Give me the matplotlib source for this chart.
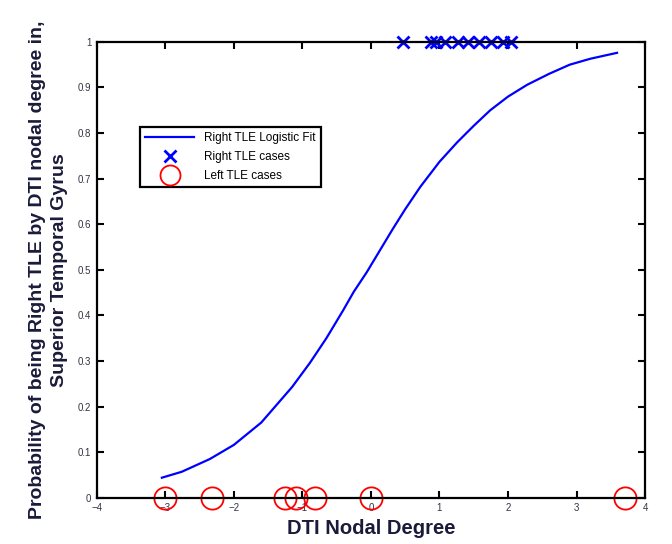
import numpy as np
import matplotlib
matplotlib.use("Agg")
import matplotlib.pyplot as plt

plt.rcParams['font.family'] = ['Liberation Sans', 'DejaVu Sans']

# Logistic fit curve, sampled along the nodal degree range
fit_x = [-3.05, -2.76, -2.35, -2.00, -1.60, -1.15, -0.89, -0.65, -0.41, -0.25,
         -0.06, 0.10, 0.32, 0.50, 0.72, 1.00, 1.26, 1.50, 1.74, 2.00, 2.28,
         2.60, 2.90, 3.20, 3.59]
fit_p = [0.044, 0.057, 0.085, 0.116, 0.165, 0.243, 0.296, 0.350, 0.410, 0.452,
         0.495, 0.535, 0.590, 0.633, 0.682, 0.737, 0.780, 0.816, 0.850, 0.880,
         0.906, 0.930, 0.950, 0.963, 0.976]

# Observed cases (outcome 1 = right TLE, 0 = left TLE)
right_x = [0.47, 0.88, 0.95, 1.08, 1.27, 1.42, 1.58, 1.75, 1.92, 2.05]
left_x = [-3.0, -2.32, -1.26, -1.10, -0.81, 0.0, 3.71]

fig = plt.figure(figsize=(6.72, 5.44), dpi=100)
ax = fig.add_axes([0.144, 0.085, 0.816, 0.838])

ax.plot(fit_x, fit_p, '-', color='#0000ff', linewidth=1.6, label='Right TLE Logistic Fit')
ax.plot(right_x, np.ones(len(right_x)), 'x', color='#0000ff', markersize=9,
        markeredgewidth=2.0, clip_on=False, label='Right TLE cases')
ax.plot(left_x, np.zeros(len(left_x)), 'o', markerfacecolor='none',
        markeredgecolor='#ff0000', markersize=16, markeredgewidth=1.3,
        clip_on=False, label='Left TLE cases')

ax.set_xlim(-4, 4)
ax.set_ylim(0, 1)
ax.set_xticks(np.arange(-4, 5, 1))
ax.set_yticks(np.arange(0, 1.01, 0.1))
ax.set_yticklabels(['0', '0.1', '0.2', '0.3', '0.4', '0.5', '0.6', '0.7', '0.8', '0.9', '1'])
ax.tick_params(direction='in', top=True, right=True, length=5, width=1.5,
               labelsize=7, labelcolor='#333344', pad=4)
for spine in ax.spines.values():
    spine.set_linewidth(1.6)

ax.set_xlabel('DTI Nodal Degree', fontsize=14.5, fontweight='bold', color='#1a1a3a', labelpad=4)
ax.set_ylabel('Probability of being Right TLE by DTI nodal degree in,\nSuperior Temporal Gyrus',
              fontsize=14, fontweight='bold', color='#1a1a3a', labelpad=7,
              linespacing=1.4)

leg = ax.legend(loc='upper left', bbox_to_anchor=(0.078, 0.814), fontsize=8.5,
                frameon=True, fancybox=False, framealpha=1, edgecolor='black',
                borderpad=0.45, labelspacing=0.6, handlelength=4.2, handletextpad=0.8,
                markerscale=0.9, borderaxespad=0)
leg.get_frame().set_linewidth(1.6)

fig.savefig('out.png', dpi=100)
plt.close(fig)
